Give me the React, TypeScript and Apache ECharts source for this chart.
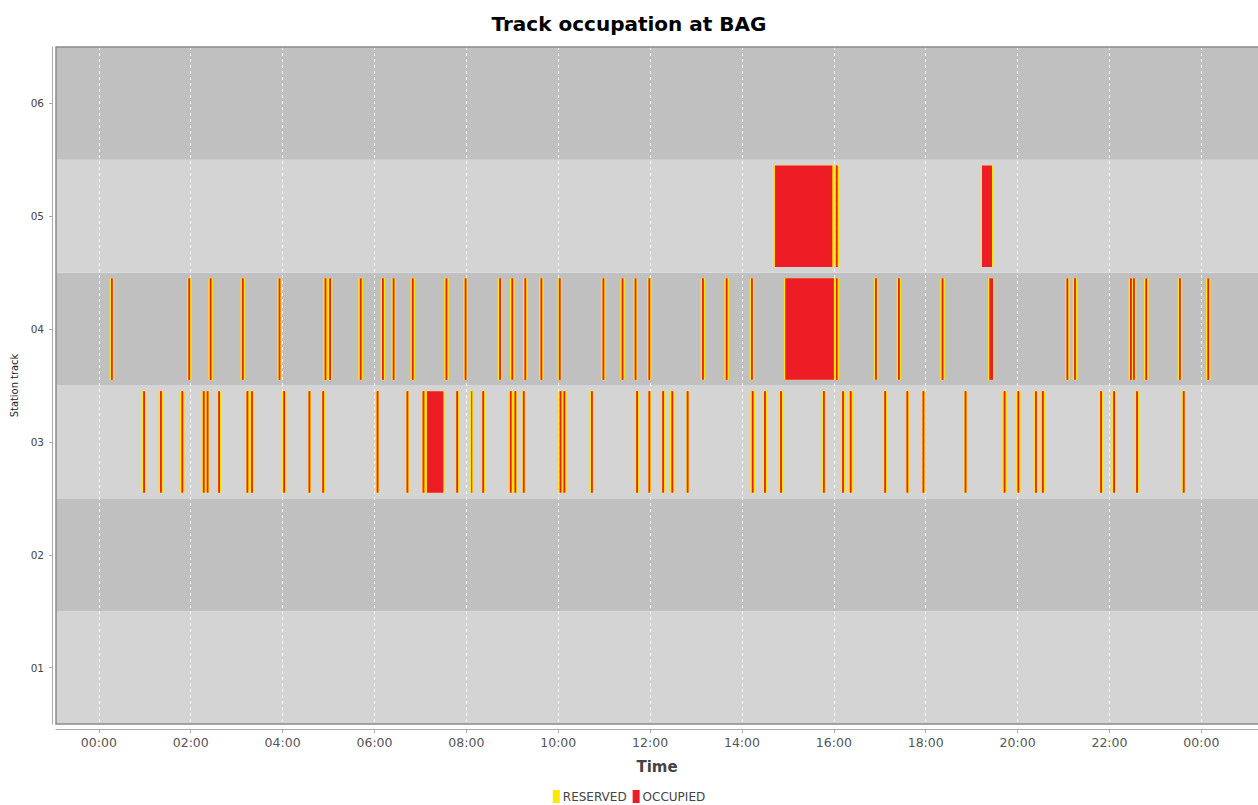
import React, { useEffect, useRef } from 'react';
import * as echarts from 'echarts';

// Station tracks (bottom to top)
const TRACKS = ['01', '02', '03', '04', '05', '06'];

// Tick positions in minutes after midnight (00:00 .. next 00:00)
const TICK_MINUTES = [0, 120, 240, 360, 480, 600, 720, 840, 960, 1080, 1200, 1320, 1440];

// Visible time range in minutes
const X_MIN = -56;
const X_MAX = 1514;

// Events per track: [reservedStart, occupiedStart, occupiedEnd, reservedEnd] in minutes
const TRACK_03: number[][] = [
  [56, 57.8, 60.2, 62], [78, 79.8, 82.2, 84], [106, 107.8, 110.2, 112], [134, 135.8, 138.2, 140],
  [139, 140.8, 143.2, 145], [154, 155.8, 158.2, 160], [191, 192.8, 195.2, 197], [197, 198.8, 201.2, 203],
  [239, 240.8, 243.2, 245], [272, 273.8, 276.2, 278], [290, 291.8, 294.2, 296], [361, 362.8, 365.2, 367],
  [400, 401.8, 404.2, 406], [421, 422.8, 425.2, 427], [427, 428.5, 450, 451.5], [465, 466.8, 469.2, 471],
  [484, 486.3, 487.7, 490], [499, 500.8, 503.2, 505], [535, 536.8, 539.2, 541], [541, 542.8, 545.2, 547],
  [552, 553.8, 556.2, 558], [600, 601.8, 604.2, 606], [605, 606.8, 609.2, 611], [641, 642.8, 645.2, 647],
  [700, 701.8, 704.2, 706], [716, 717.8, 720.2, 722], [734, 735.8, 738.2, 740], [746, 747.8, 750.2, 752],
  [766, 767.8, 770.2, 772], [851, 852.8, 855.2, 857], [867, 868.8, 871.2, 873], [888, 889.8, 892.2, 894],
  [944, 945.8, 948.2, 950], [969, 970.8, 973.2, 975], [979, 980.8, 983.2, 985], [1024, 1025.8, 1028.2, 1030],
  [1053, 1054.8, 1057.2, 1059], [1074, 1075.8, 1078.2, 1080], [1129, 1130.8, 1133.2, 1135], [1180, 1181.8, 1184.2, 1186],
  [1198, 1199.8, 1202.2, 1204], [1221, 1222.8, 1225.2, 1227], [1230, 1231.8, 1234.2, 1236], [1306, 1307.8, 1310.2, 1312],
  [1323, 1324.8, 1327.2, 1329], [1353, 1354.8, 1357.2, 1359], [1414, 1415.8, 1418.2, 1420],
];

const TRACK_04: number[][] = [
  [14, 15.8, 18.2, 20], [115, 116.8, 119.2, 121], [143, 144.8, 147.2, 149], [185, 186.8, 189.2, 191],
  [233, 234.8, 237.2, 239], [293, 294.8, 297.2, 299], [299, 300.8, 303.2, 305], [339, 340.8, 343.2, 345],
  [368, 369.8, 372.2, 374], [382, 383.8, 386.2, 388], [407, 408.8, 411.2, 413], [451, 452.8, 455.2, 457],
  [476, 477.8, 480.2, 482], [521, 522.8, 525.2, 527], [537, 538.8, 541.2, 543], [554, 555.8, 558.2, 560],
  [575, 576.8, 579.2, 581], [599, 600.8, 603.2, 605], [656, 657.8, 660.2, 662], [681, 682.8, 685.2, 687],
  [698, 699.8, 702.2, 704], [716, 717.8, 720.2, 722], [786, 787.8, 790.2, 792], [817, 818.8, 821.2, 823],
  [850, 851.8, 854.2, 856], [895, 896.5, 960, 961.5], [961.5, 962.8, 965, 967], [1012, 1013.8, 1016.2, 1018],
  [1042, 1043.8, 1046.2, 1048], [1099, 1100.8, 1103.2, 1105], [1161.5, 1163, 1168, 1169.5], [1262, 1263.8, 1266.2, 1268],
  [1272, 1273.8, 1276.2, 1278], [1345, 1346.8, 1349.2, 1351], [1349, 1350.8, 1353.2, 1355], [1365, 1366.8, 1369.2, 1371],
  [1409, 1410.8, 1413.2, 1415], [1446, 1447.8, 1450.2, 1452],
];

const TRACK_05: number[][] = [
  [881.5, 883, 958, 959.5], [960.5, 962.6, 965, 967], [1152, 1153.5, 1166.5, 1168],
];

const EVENTS_BY_TRACK: { track: string; events: number[][] }[] = [
  { track: '03', events: TRACK_03 },
  { track: '04', events: TRACK_04 },
  { track: '05', events: TRACK_05 },
];

const RESERVED_COLOR = '#fde800';
const OCCUPIED_COLOR = '#ee1c24';

function fmtTime(m: number): string {
  const mm = ((Math.round(m) % 1440) + 1440) % 1440;
  const h = Math.floor(mm / 60);
  const mi = mm % 60;
  return String(h).padStart(2, '0') + ':' + String(mi).padStart(2, '0');
}

export default function App() {
  const ref = useRef<HTMLDivElement>(null);

  useEffect(() => {
    if (!ref.current) return;
    const chart = echarts.init(ref.current, undefined, { renderer: 'svg' });

    const reservedData: number[][] = [];
    const occupiedData: number[][] = [];
    EVENTS_BY_TRACK.forEach(({ track, events }) => {
      const idx = TRACKS.indexOf(track);
      events.forEach((e) => {
        reservedData.push([e[0], e[3], idx]);
        occupiedData.push([e[1], e[2], idx]);
      });
    });

    const makeSeries = (name: string, color: string, data: number[][]) => ({
      type: 'custom',
      name,
      data,
      encode: { x: [0, 1], y: 2 },
      itemStyle: { color },
      renderItem: (params: any, api: any) => {
        const yIdx = api.value(2);
        const s = api.coord([api.value(0), yIdx]);
        const e = api.coord([api.value(1), yIdx]);
        const h = api.size([0, 1])[1] * 0.9;
        return {
          type: 'rect',
          shape: { x: s[0], y: s[1] - h / 2, width: Math.max(e[0] - s[0], 1), height: h },
          style: { fill: color },
        };
      },
    });

    const font = 'DejaVu Sans, sans-serif';

    chart.setOption({
      animation: false,
      backgroundColor: '#ffffff',
      title: {
        text: 'Track occupation at BAG',
        left: 'center',
        top: 9,
        textStyle: { fontSize: 20, fontWeight: 'bold', color: '#000', fontFamily: font },
      },
      legend: {
        top: 785,
        left: 'center',
        icon: 'rect',
        itemWidth: 7,
        itemHeight: 13,
        itemGap: 6,
        textStyle: { fontSize: 12, color: '#444', fontFamily: font, padding: [0, 0, 0, -2] },
        data: ['RESERVED', 'OCCUPIED'],
      },
      grid: { left: 56, right: 0, top: 47, bottom: 81, containLabel: false },
      xAxis: {
        type: 'value',
        min: X_MIN,
        max: X_MAX,
        offset: 5,
        name: 'Time',
        nameLocation: 'middle',
        nameGap: 30,
        nameTextStyle: { fontSize: 15, fontWeight: 'bold', color: '#444', fontFamily: font },
        axisLine: { show: true, onZero: false, lineStyle: { color: '#aaaaaa', width: 1 } },
        axisTick: { show: true, customValues: TICK_MINUTES, length: 4, lineStyle: { color: '#aaaaaa' } },
        axisLabel: {
          customValues: TICK_MINUTES,
          formatter: (v: number) => fmtTime(v),
          color: '#555',
          fontSize: 12.5,
          fontFamily: font,
          margin: 7,
        },
        splitLine: { show: true, lineStyle: { color: 'rgba(255,255,255,0.8)', type: [3, 3], width: 1 } },
      },
      yAxis: {
        type: 'category',
        data: TRACKS,
        offset: 4,
        name: 'Station track',
        nameLocation: 'middle',
        nameGap: 32,
        nameRotate: 90,
        nameTextStyle: { fontSize: 11, color: '#222', fontFamily: 'DejaVu Sans Condensed, DejaVu Sans, sans-serif' },
        axisLine: { show: true, onZero: false, lineStyle: { color: '#aaaaaa', width: 1 } },
        axisTick: { show: true, alignWithLabel: true, length: 3, lineStyle: { color: '#aaaaaa' } },
        axisLabel: { color: '#444', fontSize: 10.5, fontFamily: font, margin: 8 },
        splitLine: { show: false },
        splitArea: { show: true, areaStyle: { color: ['#d4d4d4', '#c0c0c0'] } },
      },
      graphic: [
        {
          type: 'rect',
          silent: true,
          z: 100,
          shape: { x: 56, y: 47, width: 1204, height: 677 },
          style: { fill: 'none', stroke: '#8a8a8a', lineWidth: 1.5 },
        },
      ],
      series: [
        makeSeries('RESERVED', RESERVED_COLOR, reservedData),
        makeSeries('OCCUPIED', OCCUPIED_COLOR, occupiedData),
      ],
    });

    return () => chart.dispose();
  }, []);

  return (
    <div
      ref={ref}
      style={{ position: 'fixed', left: 0, top: 0, width: 1258, height: 805 }}
    />
  );
}
